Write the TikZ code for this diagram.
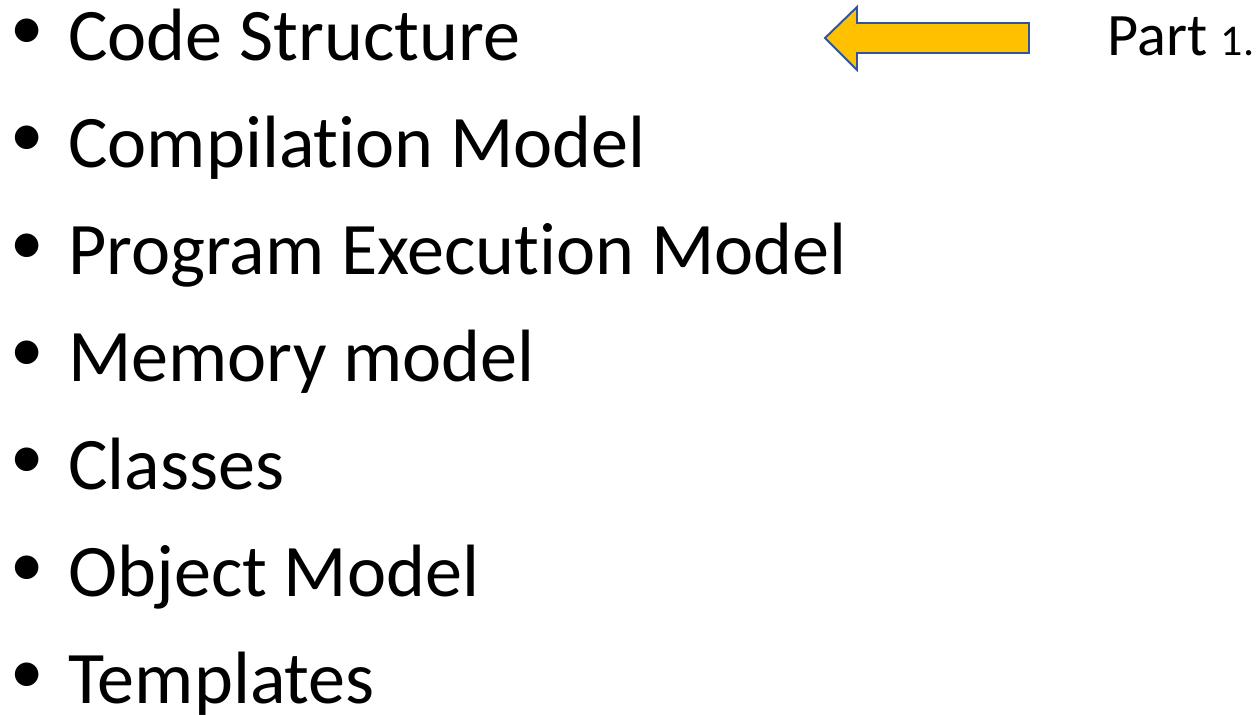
\documentclass[tikz,border=0pt]{standalone}
\usepackage{fontspec}
\setmainfont{Carlito}[Ligatures=CommonOff]
\usepackage{tikz}

\definecolor{arrowfill}{HTML}{FFC000}
\definecolor{arrowline}{HTML}{2F5597}

\newcommand{\topicbullet}{\llap{\makebox[1.12em][c]{\raisebox{0.14em}{\scalebox{0.9}{\textbullet}}}}}

\tikzset{
  item/.style={anchor=base west, inner sep=0pt, font=\fontsize{42.2}{50}\selectfont},
  partlabel/.style={anchor=base west, inner sep=0pt, font=\fontsize{34.3}{40}\selectfont}
}

\begin{document}
\begin{tikzpicture}[x=0.02cm, y=-0.02cm] % one unit is one pixel of the slide
\useasboundingbox (0,0) rectangle (1260,714);
% The list of topics
\node[item] (code) at (68,60) {\topicbullet Code Structure};
\node[item] (comp) at (68,167.3) {\topicbullet Compilation Model};
\node[item] (exec) at (68,274.6) {\topicbullet Program Execution Model};
\node[item] (mem) at (68,381.9) {\topicbullet Memory model};
\node[item] (cls) at (68,489.2) {\topicbullet Classes};
\node[item] (obj) at (68,596.5) {\topicbullet Object Model};
\node[item] (tmpl) at (68,703.8) {\topicbullet Templates};
% The block arrow pointing at the first topic
\draw[fill=arrowfill, draw=arrowline, line width=1.1pt, line join=miter]
  (825,38) -- (857,7) -- (857,23) -- (1029,23) -- (1029,53) -- (857,53) -- (857,70) -- cycle;
% Label on the right
\node[partlabel] (part) at (1107,55) {Part {\fontsize{25}{30}\selectfont 1.}};
\end{tikzpicture}
\end{document}
